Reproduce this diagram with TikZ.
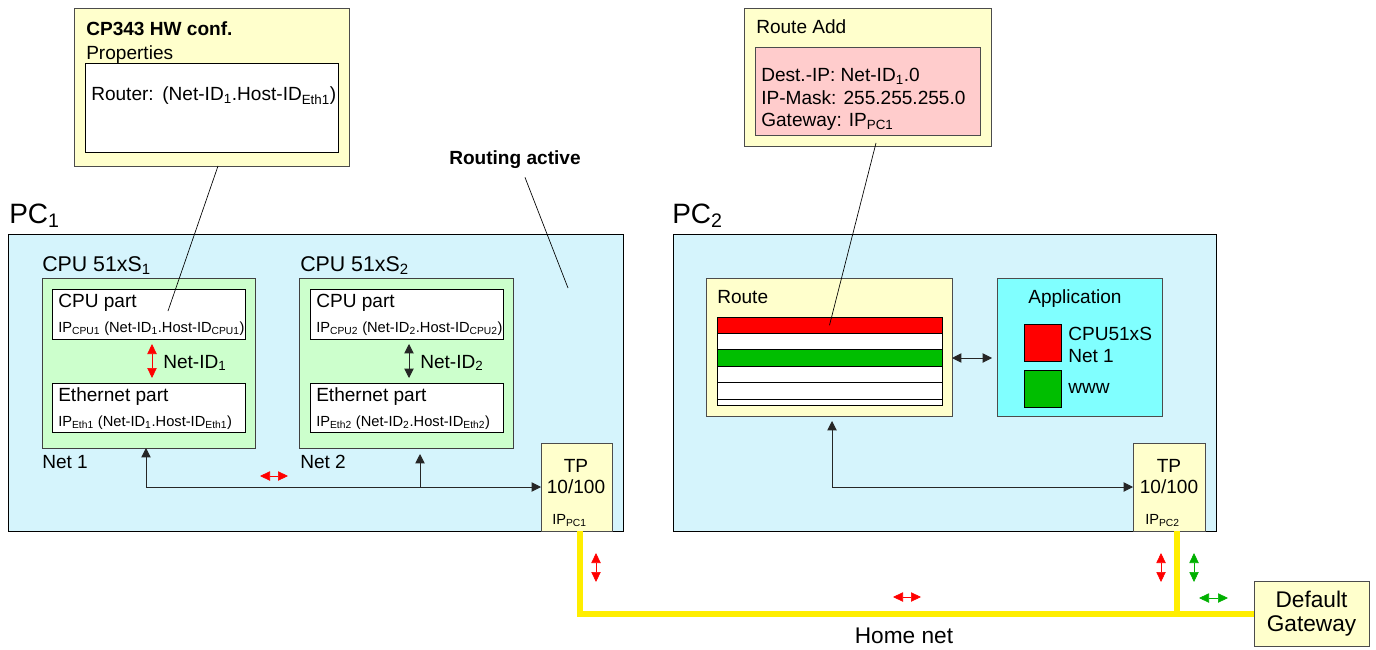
\documentclass[tikz,border=0pt]{standalone}
\usepackage{fontspec}
\setmainfont{Liberation Sans}
\usetikzlibrary{arrows.meta}
\newdimen\px \px=0.75pt
\newcommand\fmain{\fontsize{14.3}{17}\selectfont}
\newcommand\fsmall{\fontsize{11}{13}\selectfont}
\newcommand\fcpu{\fontsize{16}{19}\selectfont}
\newcommand\fpc{\fontsize{21}{25}\selectfont}
\newcommand\fhome{\fontsize{17}{19}\selectfont}
\definecolor{pccyan}{RGB}{213,244,252}
\definecolor{cpugreen}{RGB}{204,255,204}
\definecolor{paleyellow}{RGB}{255,255,204}
\definecolor{pinkbox}{RGB}{255,204,204}
\definecolor{appcyan}{RGB}{128,255,255}
\definecolor{stripered}{RGB}{255,0,0}
\definecolor{stripegreen}{RGB}{0,190,0}
\definecolor{netyellow}{RGB}{255,238,0}
\definecolor{arrowgreen}{RGB}{0,176,0}
\tikzset{
  box/.style={draw, inner sep=0, outer sep=0, anchor=north west, line width=0.7pt},
  pcbox/.style={box, fill=pccyan, draw=black},
  cpubox/.style={box, fill=cpugreen, draw=black!75},
  partbox/.style={box, fill=white, draw=black},
  ybox/.style={box, fill=paleyellow, draw=black!70},
  txt/.style={anchor=base west, inner sep=0, font=\fmain},
  small/.style={txt, font=\fsmall},
  leader/.style={draw=black, line width=0.5pt},
  link/.style={draw=black!85, line width=0.7pt},
  dblred/.style={{Triangle[length=7.5pt,width=7pt]}-{Triangle[length=7.5pt,width=7pt]}, red, line width=0.5pt},
  dblgreen/.style={dblred, arrowgreen},
  homenet/.style={netyellow, line width=4.5pt, line join=miter}
}
\begin{document}
\begin{tikzpicture}[x=0.75pt, y=-0.75pt, >={Triangle[length=7pt,width=7pt]}]
\useasboundingbox (0,0) rectangle (1376,649);

% CP343 configuration
\node[ybox, minimum width=275\px, minimum height=158\px] (cp343) at (74,8) {};
\node[partbox, minimum width=253\px, minimum height=89\px] (props) at (85,63) {};
\node[txt, font=\fmain\bfseries] (cp343title) at (86,36) {CP343 HW conf.};
\node[txt] (proptitle) at (86,60) {Properties};
\node[txt] (router) at (91,101) {Router:\hspace{0.45em}(Net-ID\textsubscript{1}.Host-ID\textsubscript{Eth1})};
\node[txt, font=\fmain\bfseries] (routing) at (449,165) {Routing active};

% PC 1
\node[txt, font=\fpc] (pc1label) at (9,223) {PC\textsubscript{1}};
\node[pcbox, minimum width=615\px, minimum height=297\px] (pc1) at (8,234) {};
\node[txt, font=\fcpu] (cpu1label) at (42,271) {CPU 51xS\textsubscript{1}};
\node[txt, font=\fcpu] (cpu2label) at (300,271) {CPU 51xS\textsubscript{2}};
\node[cpubox, minimum width=213\px, minimum height=170\px] (cpu1) at (42,278) {};
\node[cpubox, minimum width=214\px, minimum height=170\px] (cpu2) at (299,278) {};
\node[partbox, minimum width=193\px, minimum height=50\px] (cpupart1) at (52,289) {};
\node[partbox, minimum width=193\px, minimum height=49\px] (ethpart1) at (52,383) {};
\node[partbox, minimum width=193\px, minimum height=50\px] (cpupart2) at (310,289) {};
\node[partbox, minimum width=193\px, minimum height=49\px] (ethpart2) at (310,383) {};
\node[txt] (cpupart1text) at (58,307) {CPU part};
\node[small] (ipcpu1) at (58,332) {IP\textsubscript{CPU1} (Net-ID\textsubscript{1}.Host-ID\textsubscript{CPU1})};
\node[txt] (netid1) at (163,368) {Net-ID\textsubscript{1}};
\node[txt] (ethpart1text) at (58,401) {Ethernet part};
\node[small] (ipeth1) at (58,426) {IP\textsubscript{Eth1} (Net-ID\textsubscript{1}.Host-ID\textsubscript{Eth1})};
\node[txt] (net1) at (42,468) {Net 1};
\node[txt] (cpupart2text) at (316,307) {CPU part};
\node[small] (ipcpu2) at (316,332) {IP\textsubscript{CPU2} (Net-ID\textsubscript{2}.Host-ID\textsubscript{CPU2})};
\node[txt] (netid2) at (420,368) {Net-ID\textsubscript{2}};
\node[txt] (ethpart2text) at (316,401) {Ethernet part};
\node[small] (ipeth2) at (316,426) {IP\textsubscript{Eth2} (Net-ID\textsubscript{2}.Host-ID\textsubscript{Eth2})};
\node[txt] (net2) at (300,468) {Net 2};
\node[ybox, minimum width=71\px, minimum height=88\px] (tp1) at (541,443) {};
\node[txt, anchor=base] (tp1a) at (576,472) {TP};
\node[txt, anchor=base] (tp1b) at (576,493) {10/100};
\node[small] (ippc1) at (552,524) {IP\textsubscript{PC1}};

% PC 2
\node[txt, font=\fpc] (pc2label) at (672,223) {PC\textsubscript{2}};
\node[pcbox, minimum width=543\px, minimum height=297\px] (pc2) at (673,234) {};
\node[ybox, minimum width=246\px, minimum height=138\px] (route) at (706,278) {};
\node[txt] (routetitle) at (717,303) {Route};
\node[partbox, minimum width=225\px, minimum height=88\px] (table) at (717,317) {};
\foreach \c [count=\i] in {stripered, white, stripegreen, white, white}
  \node[partbox, fill=\c, minimum width=225\px, minimum height=16.4\px] (stripe\i) at (717,{317+16.4*(\i-1)}) {};
\node[box, fill=appcyan, draw=black!70, minimum width=165\px, minimum height=138\px] (app) at (997,278) {};
\node[txt] (apptitle) at (1028,303) {Application};
\node[box, fill=stripered, minimum width=37\px, minimum height=37\px] (appred) at (1024,324) {};
\node[box, fill=stripegreen, minimum width=37\px, minimum height=37\px] (appgreen) at (1024,370) {};
\node[txt] (appcpu) at (1068,340) {CPU51xS};
\node[txt] (appnet) at (1068,362) {Net 1};
\node[txt] (appwww) at (1068,393) {www};
\node[ybox, minimum width=72\px, minimum height=88\px] (tp2) at (1133,443) {};
\node[txt, anchor=base] (tp2a) at (1169,472) {TP};
\node[txt, anchor=base] (tp2b) at (1169,493) {10/100};
\node[small] (ippc2) at (1145,524) {IP\textsubscript{PC2}};

% Route Add
\node[ybox, minimum width=247\px, minimum height=138\px] (routeadd) at (744,8) {};
\node[box, fill=pinkbox, draw=black!70, minimum width=225\px, minimum height=88\px] (routeentry) at (755,47) {};
\node[txt] (routeaddtitle) at (756,34) {Route Add};
\node[txt] (destip) at (761,82) {Dest.-IP: Net-ID\textsubscript{1}.0};
\node[txt] (ipmask) at (761,105) {IP-Mask: 255.255.255.0};
\node[txt] (gateway) at (761,127) {Gateway: IP\textsubscript{PC1}};

% home net
\node[ybox, minimum width=115\px, minimum height=65\px, align=center, font=\fhome] (defgw) at (1254,581) {Default\\[-1pt]Gateway};
\node[txt, anchor=base, font=\fhome] (homenet) at (904,643) {Home net};
\coordinate (tap1) at ([xshift=3.5\px]tp1.south);
\coordinate (tap2) at ([xshift=8\px]tp2.south);
\draw[homenet] (tap1) |- (defgw.west);
\draw[homenet] (tap2) -- (tap2 |- defgw.west);

% leaders
\coordinate (cpuhint) at (168,311);
\coordinate (pchint) at (568,288);
\draw[leader] ([xshift=6.5\px]cp343.south) -- (cpuhint);
\draw[leader] ([xshift=10\px,yshift=-8\px]routing.south) -- (pchint);
\draw[leader] ([xshift=8.5\px,yshift=3\px]routeadd.south) -- (stripe1.center);

% links
\draw[dblred, shorten <=5\px, shorten >=5\px] ([xshift=3.5\px]cpupart1.south) -- ([xshift=3.5\px]ethpart1.north);
\draw[<->, link, shorten <=5\px, shorten >=5\px] ([xshift=2.5\px]cpupart2.south) -- ([xshift=2.5\px]ethpart2.north);
\draw[<->, link] ([xshift=-2.5\px]cpu1.south) |- (tp1.west);
\coordinate (net2tap) at ([xshift=14\px]cpu2.south);
\draw[->, link, shorten >=6\px] (net2tap |- tp1.west) -- (net2tap);
\draw[<->, link, shorten <=5\px] ([xshift=3\px]route.south) |- (tp2.west);
\draw[<->, link, shorten >=5\px] (route.east |- stripe3.west) -- (app.west |- stripe3.west);

% traffic
\foreach \x/\y in {260/476, 893/597}
  \draw[dblred] (\x,\y) -- (\x+28,\y);
\foreach \x in {596, 1161}
  \draw[dblred] (\x,553) -- (\x,582);
\draw[dblgreen] (1194,553) -- (1194,582);
\draw[dblgreen] (1199,598) -- (1228,598);
\end{tikzpicture}
\end{document}
